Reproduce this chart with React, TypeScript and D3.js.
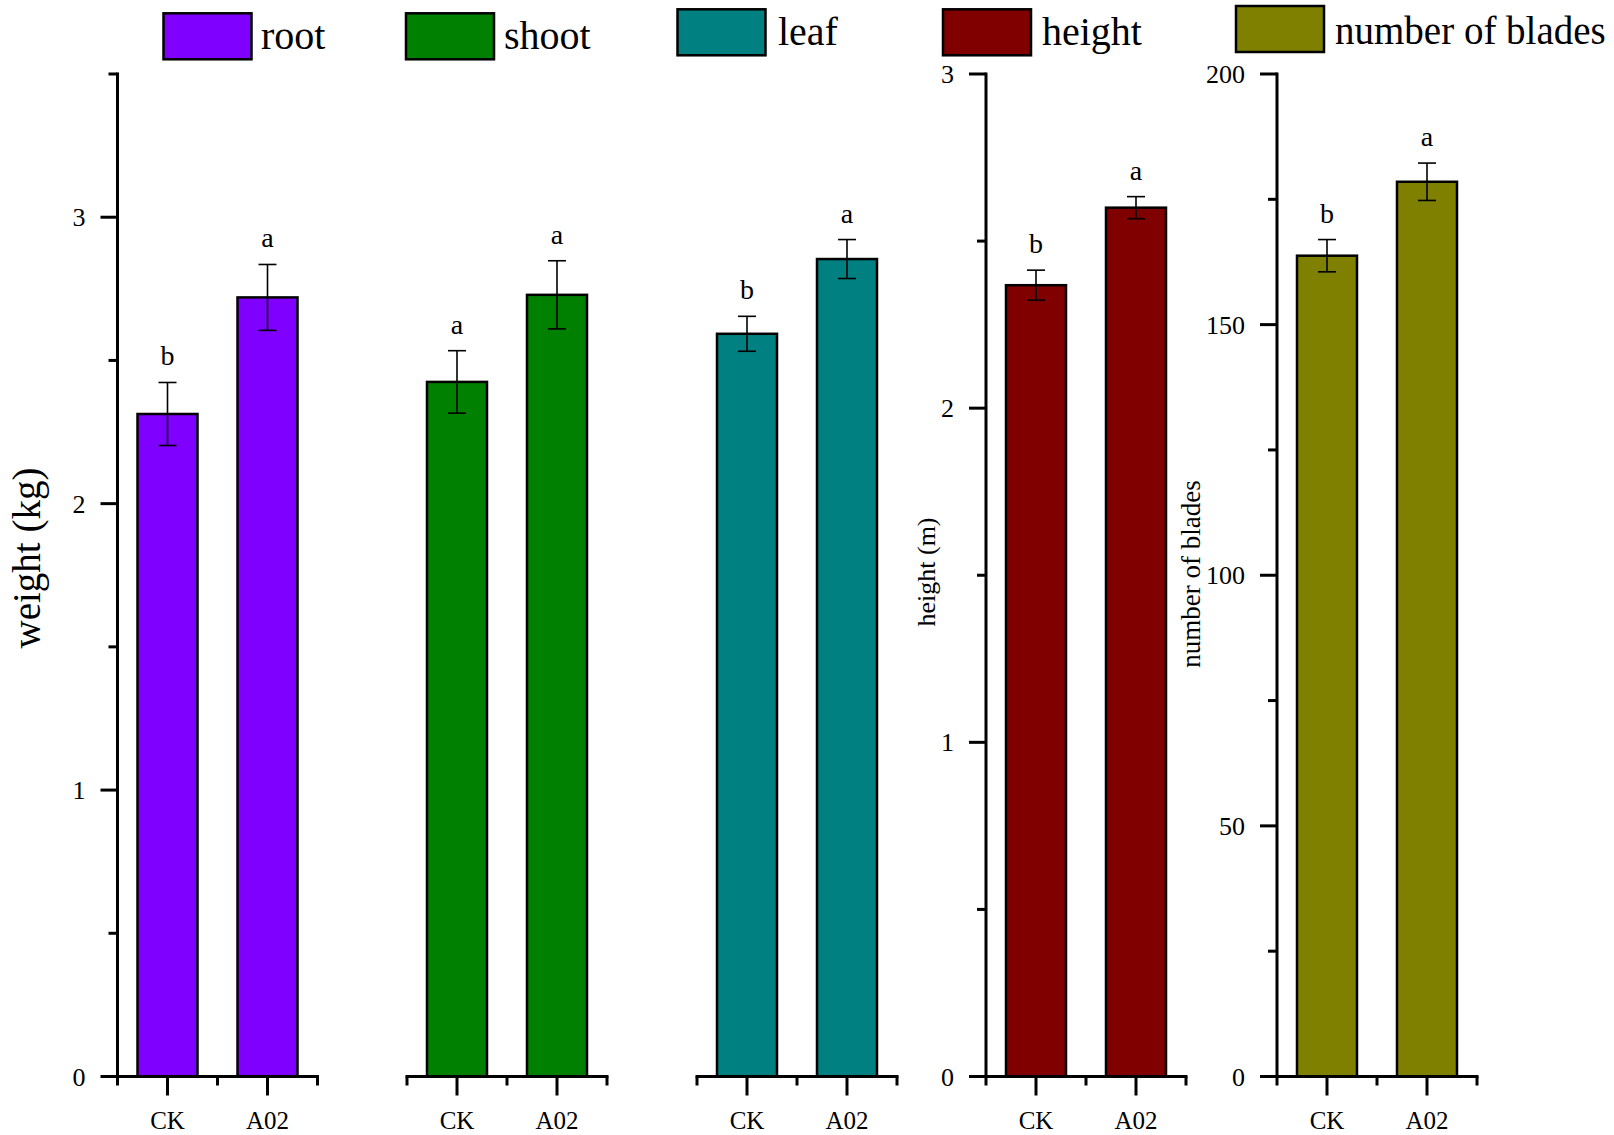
import React from "react";
import * as d3 from "d3";

// ---------- data ----------
const categories = ["CK", "A02"];

const rootMean = [2.313, 2.72];
const rootErr = [0.11, 0.115];
const rootLetters = ["b", "a"];

const shootMean = [2.425, 2.729];
const shootErr = [0.109, 0.119];
const shootLetters = ["a", "a"];

const leafMean = [2.593, 2.854];
const leafErr = [0.061, 0.068];
const leafLetters = ["b", "a"];

const heightMean = [2.368, 2.6];
const heightErr = [0.045, 0.033];
const heightLetters = ["b", "a"];

const bladesMean = [163.75, 178.5];
const bladesErr = [3.22, 3.73];
const bladesLetters = ["b", "a"];

const weightTicks = [0, 1, 2, 3];
const weightMinorTicks = [0.5, 1.5, 2.5, 3.5];
const heightTicks = [0, 1, 2, 3];
const heightMinorTicks = [0.5, 1.5, 2.5];
const bladesTicks = [0, 50, 100, 150, 200];
const bladesMinorTicks = [25, 75, 125, 175];

const seriesNames = ["root", "shoot", "leaf", "height", "number of blades"];
const seriesColors = ["#8000FF", "#008000", "#008080", "#800000", "#808000"];
const axisTitles = ["weight (kg)", "height (m)", "number of blades"];

// ---------- layout ----------
const W = 1614;
const H = 1135;
const Y0 = 1076.5;
const Y1 = 74;
const PANEL_W = 200;
const panelX = [117.5, 407, 697, 986, 1277];
const FONT = "'Liberation Serif', 'Times New Roman', serif";
const MAJOR = 17;
const MINOR = 9;

const legendLayout = [
  { x: 163.5, y: 13.3, tx: 261, ty: 48.5, fs: 40 },
  { x: 406, y: 13.3, tx: 504, ty: 48.5, fs: 40 },
  { x: 677.5, y: 9.3, tx: 778, ty: 45, fs: 40 },
  { x: 943, y: 9.3, tx: 1042, ty: 45, fs: 40 },
  { x: 1236, y: 6, tx: 1335, ty: 44, fs: 39 },
];

export default function App() {
  const weightY = d3.scaleLinear().domain([0, 3.5]).range([Y0, Y1]);
  const heightY = d3.scaleLinear().domain([0, 3]).range([Y0, Y1]);
  const bladesY = d3.scaleLinear().domain([0, 200]).range([Y0, Y1]);

  const panels = [
    { mean: rootMean, err: rootErr, letters: rootLetters, y: weightY,
      axis: { ticks: weightTicks, minor: weightMinorTicks, title: axisTitles[0], tx: 26, ty: 558, fs: 39 } },
    { mean: shootMean, err: shootErr, letters: shootLetters, y: weightY, axis: null },
    { mean: leafMean, err: leafErr, letters: leafLetters, y: weightY, axis: null },
    { mean: heightMean, err: heightErr, letters: heightLetters, y: heightY,
      axis: { ticks: heightTicks, minor: heightMinorTicks, title: axisTitles[1], tx: 926, ty: 572, fs: 26 } },
    { mean: bladesMean, err: bladesErr, letters: bladesLetters, y: bladesY,
      axis: { ticks: bladesTicks, minor: bladesMinorTicks, title: axisTitles[2], tx: 1191, ty: 574, fs: 27 } },
  ];

  return (
    <svg
      width={W}
      height={H}
      viewBox={`0 0 ${W} ${H}`}
      style={{ position: "absolute", left: 0, top: 0, background: "#fff" }}
      fontFamily={FONT}
    >
      <rect x={0} y={0} width={W} height={H} fill="#fff" />
      {/* legend */}
      {seriesNames.map((name, i) => {
        const L = legendLayout[i];
        return (
          <g key={name}>
            <rect x={L.x} y={L.y} width={88} height={46} fill={seriesColors[i]} stroke="#000" strokeWidth={2.5} />
            <text x={L.tx} y={L.ty} fontSize={L.fs} fill="#000">{name}</text>
          </g>
        );
      })}

      {panels.map((p, pi) => {
        const x0 = panelX[pi];
        const x = d3.scaleBand().domain(categories).range([x0, x0 + PANEL_W]).paddingInner(0.4).paddingOuter(0.2);
        const step = x.step();
        const y = p.y;
        const bounds = [x0, x0 + step, x0 + 2 * step];
        return (
          <g key={pi}>
            {/* bars */}
            {categories.map((c, i) => (
              <rect
                key={c}
                x={x(c)}
                y={y(p.mean[i])}
                width={x.bandwidth()}
                height={Y0 - y(p.mean[i])}
                fill={seriesColors[pi]}
                stroke="#000"
                strokeWidth={2.5}
              />
            ))}
            {/* error bars */}
            {categories.map((c, i) => {
              const cx = (x(c) as number) + x.bandwidth() / 2;
              const top = y(p.mean[i] + p.err[i]);
              const bot = y(p.mean[i] - p.err[i]);
              return (
                <g key={c} stroke="#000" strokeWidth={1.6}>
                  <line x1={cx} x2={cx} y1={top} y2={bot} />
                  <line x1={cx - 9} x2={cx + 9} y1={top} y2={top} />
                  <line x1={cx - 9} x2={cx + 9} y1={bot} y2={bot} />
                </g>
              );
            })}
            {/* letters */}
            {categories.map((c, i) => {
              const cx = (x(c) as number) + x.bandwidth() / 2;
              const top = y(p.mean[i] + p.err[i]);
              return (
                <text key={c} x={cx} y={top - 17} fontSize={28} textAnchor="middle" fill="#000">
                  {p.letters[i]}
                </text>
              );
            })}
            {/* x axis */}
            <line x1={x0} x2={x0 + PANEL_W} y1={Y0} y2={Y0} stroke="#000" strokeWidth={3} strokeLinecap="square" />
            {bounds.map((bx, k) => (
              <line key={"b" + k} x1={bx} x2={bx} y1={Y0} y2={Y0 + MINOR} stroke="#000" strokeWidth={3} />
            ))}
            {categories.map((c) => {
              const cx = (x(c) as number) + x.bandwidth() / 2;
              return (
                <g key={c}>
                  <line x1={cx} x2={cx} y1={Y0} y2={Y0 + MAJOR + 2} stroke="#000" strokeWidth={3} />
                  <text x={cx} y={1129} fontSize={25} textAnchor="middle" fill="#000">{c}</text>
                </g>
              );
            })}
            {/* y axis */}
            {p.axis && (
              <g>
                <line x1={x0} x2={x0} y1={Y0} y2={Y1} stroke="#000" strokeWidth={3} strokeLinecap="square" />
                {p.axis.ticks.map((t) => (
                  <g key={"t" + t}>
                    <line x1={x0 - MAJOR} x2={x0} y1={y(t)} y2={y(t)} stroke="#000" strokeWidth={3} />
                    <text x={x0 - MAJOR - 15} y={y(t)} dy="0.35em" fontSize={26} textAnchor="end" fill="#000">
                      {t}
                    </text>
                  </g>
                ))}
                {p.axis.minor.map((t) => (
                  <line key={"m" + t} x1={x0 - MINOR} x2={x0} y1={y(t)} y2={y(t)} stroke="#000" strokeWidth={3} />
                ))}
                <text
                  transform={`translate(${p.axis.tx},${p.axis.ty}) rotate(-90)`}
                  fontSize={p.axis.fs}
                  textAnchor="middle"
                  dy="0.35em"
                  fill="#000"
                >
                  {p.axis.title}
                </text>
              </g>
            )}
          </g>
        );
      })}
    </svg>
  );
}
